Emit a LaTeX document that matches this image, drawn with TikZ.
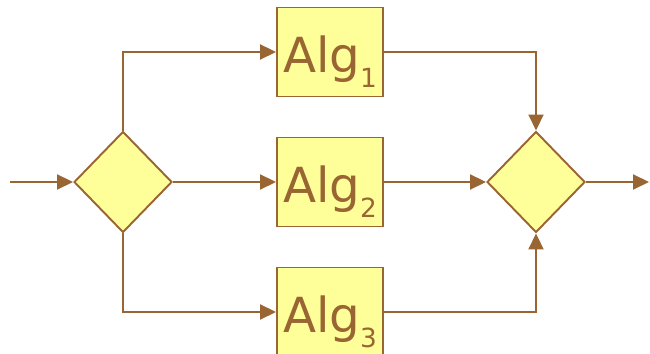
\documentclass[tikz,border=0pt]{standalone}
\usepackage{fontspec}
\setsansfont{DejaVu Sans}
\usetikzlibrary{arrows.meta,shapes.geometric}

\definecolor{wire}{RGB}{153,102,51}
\definecolor{pad}{RGB}{255,255,153}

% label with a lowered index
\newcommand{\algname}[1]{Alg\raisebox{-0.3cm}{\fontsize{15}{16}\selectfont #1}}

\tikzset{
    algbox/.style={draw=wire, fill=pad, line width=1.1pt, rectangle,
        minimum width=2.12cm, minimum height=1.78cm, inner sep=0pt,
        text height=1.0cm, text depth=0.16cm, text=wire,
        font=\sffamily\fontsize{27.5}{29}\selectfont},
    switch/.style={draw=wire, fill=pad, line width=1.1pt, diamond,
        minimum width=1.96cm, minimum height=2.02cm, inner sep=0pt},
    flow/.style={draw=wire, line width=1.1pt,
        -{Triangle[length=0.32cm, width=0.3cm]}}
}

\begin{document}
\begin{tikzpicture}

            \useasboundingbox (0, 0) rectangle (13, 7.08);

            % ==========================================
            % 1. Diramazione e ricongiungimento
            % ==========================================
            \node[switch] (split) at (2.46, 3.44) {};
            \node[switch] (join)  at (10.72, 3.44) {};

            % ==========================================
            % 2. Blocchi degli algoritmi
            % ==========================================
            \node[algbox] (alg1) at (6.6, 6.04) {\algname{1}};
            \node[algbox] (alg2) at (6.6, 3.44) {\algname{2}};
            \node[algbox] (alg3) at (6.6, 0.84) {\algname{3}};

            % ==========================================
            % 3. Ingresso e uscita
            % ==========================================
            \coordinate (in)  at (0.2, 3.44);
            \coordinate (out) at (12.98, 3.44);
            \draw[flow] (in) -- (split.west);
            \draw[flow] (join.east) -- (out);

            % ==========================================
            % 4. Collegamenti
            % ==========================================
            \draw[flow] (split.north) |- (alg1.west);
            \draw[flow] (split.east) -- (alg2.west);
            \draw[flow] (split.south) |- (alg3.west);

            \draw[flow] (alg1.east) -| (join.north);
            \draw[flow] (alg2.east) -- (join.west);
            \draw[flow] (alg3.east) -| (join.south);

        \end{tikzpicture}
\end{document}
